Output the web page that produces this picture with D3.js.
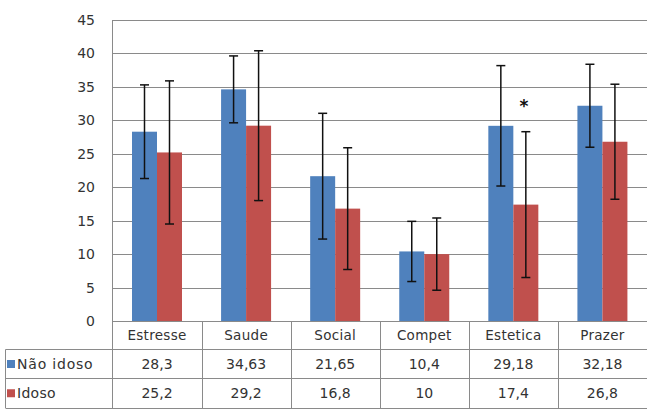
<!DOCTYPE html>
<html><head><meta charset="utf-8">
<script src="https://cdn.jsdelivr.net/npm/d3@7"></script>
<style>html,body{margin:0;padding:0;background:#fff;}svg{display:block;}</style>
</head><body>
<svg id="chart" width="647" height="409"></svg>
<script>
const categories = ["Estresse", "Saude", "Social", "Compet", "Estetica", "Prazer"];
const seriesNames = ["Não idoso", "Idoso"];
const naoIdoso = [28.3, 34.63, 21.65, 10.4, 29.18, 32.18];
const idoso = [25.2, 29.2, 16.8, 10, 17.4, 26.8];
const naoIdosoLabels = ["28,3", "34,63", "21,65", "10,4", "29,18", "32,18"];
const idosoLabels = ["25,2", "29,2", "16,8", "10", "17,4", "26,8"];
const sdNaoIdoso = [7.0, 5.0, 9.4, 4.5, 9.0, 6.2];
const sdIdoso = [10.7, 11.2, 9.1, 5.4, 10.9, 8.6];
const yTicks = [0, 5, 10, 15, 20, 25, 30, 35, 40, 45];
const markers = [{category: "Estetica", series: "Idoso", value: 33, text: "*"}];

const colors = {"Não idoso": "#4F81BD", "Idoso": "#C0504D"};
const gridColor = "#8a8a8a";
const font = "'DejaVu Sans', sans-serif";

const svg = d3.select("#chart");
const plotLeft = 112.5, plotRight = 647, plotTop = 20, plotBottom = 321;
const tableLeft = 5.5, row1 = 349.5, row2 = 378.5, tableBottom = 408;

const x0 = d3.scaleBand().domain(categories).range([plotLeft, plotRight]).padding(0);
const x1 = d3.scaleBand().domain(seriesNames).range([19.5, 69.5]).padding(0);
const y = d3.scaleLinear().domain([0, 45]).range([plotBottom, plotTop]);

const data = categories.map((c, i) => ({
  cat: c,
  vals: [
    {s: "Não idoso", v: naoIdoso[i], sd: sdNaoIdoso[i]},
    {s: "Idoso", v: idoso[i], sd: sdIdoso[i]}
  ]
}));

// gridlines
svg.append("g").selectAll("line").data(yTicks).join("line")
  .attr("x1", plotLeft).attr("x2", plotRight)
  .attr("y1", d => Math.round(y(d)) + 0.5).attr("y2", d => Math.round(y(d)) + 0.5)
  .attr("stroke", gridColor).attr("stroke-width", 1);

// y labels
svg.append("g").selectAll("text").data(yTicks).join("text")
  .attr("x", 95).attr("y", d => y(d)).attr("dy", "0.36em")
  .attr("text-anchor", "end").attr("font-family", font).attr("font-size", 14)
  .attr("fill", "#333").text(d => d);

// bars
const groups = svg.append("g").selectAll("g").data(data).join("g")
  .attr("transform", d => `translate(${x0(d.cat)},0)`);
groups.selectAll("rect").data(d => d.vals).join("rect")
  .attr("x", d => x1(d.s)).attr("width", x1.bandwidth())
  .attr("y", d => y(d.v)).attr("height", d => y(0) - y(d.v))
  .attr("fill", d => colors[d.s]);

// error bars
const eb = groups.selectAll("g.eb").data(d => d.vals).join("g").attr("class", "eb");
eb.append("line")
  .attr("x1", d => x1(d.s) + x1.bandwidth() / 2).attr("x2", d => x1(d.s) + x1.bandwidth() / 2)
  .attr("y1", d => y(d.v + d.sd)).attr("y2", d => y(d.v - d.sd))
  .attr("stroke", "#111").attr("stroke-width", 1.5);
["top", "bot"].forEach(k => {
  eb.append("line")
    .attr("x1", d => x1(d.s) + x1.bandwidth() / 2 - 4.5).attr("x2", d => x1(d.s) + x1.bandwidth() / 2 + 4.5)
    .attr("y1", d => y(k === "top" ? d.v + d.sd : d.v - d.sd))
    .attr("y2", d => y(k === "top" ? d.v + d.sd : d.v - d.sd))
    .attr("stroke", "#111").attr("stroke-width", 1.5);
});

// markers
svg.append("g").selectAll("text").data(markers).join("text")
  .attr("x", d => x0(d.category) + x1(d.series) + x1.bandwidth() / 2 - 2)
  .attr("y", d => y(d.value)).attr("dy", "0.7em")
  .attr("text-anchor", "middle").attr("font-family", font).attr("font-size", 17).attr("font-weight", "bold")
  .attr("fill", "#111").text(d => d.text);

// axis left line
svg.append("line").attr("x1", plotLeft).attr("x2", plotLeft).attr("y1", plotTop).attr("y2", tableBottom)
  .attr("stroke", gridColor);

// table lines
const tbl = svg.append("g").attr("stroke", gridColor).attr("stroke-width", 1);
tbl.append("line").attr("x1", tableLeft).attr("x2", plotRight).attr("y1", row1).attr("y2", row1);
tbl.append("line").attr("x1", tableLeft).attr("x2", plotRight).attr("y1", row2).attr("y2", row2);
tbl.append("line").attr("x1", tableLeft).attr("x2", plotRight).attr("y1", tableBottom + 0.5).attr("y2", tableBottom + 0.5);
tbl.append("line").attr("x1", tableLeft).attr("x2", tableLeft).attr("y1", row1).attr("y2", tableBottom);
tbl.selectAll("line.sep").data(categories.slice(1)).join("line").attr("class", "sep")
  .attr("x1", d => Math.round(x0(d)) + 0.5).attr("x2", d => Math.round(x0(d)) + 0.5)
  .attr("y1", plotBottom).attr("y2", tableBottom);

// table text
const cx = c => x0(c) + x0.bandwidth() / 2;
svg.append("g").selectAll("text").data(categories).join("text")
  .attr("x", cx).attr("y", (plotBottom + row1) / 2).attr("dy", "0.36em")
  .attr("text-anchor", "middle").attr("font-family", font).attr("font-size", 13.5)
  .attr("letter-spacing", 0.3).attr("fill", "#333").text(d => d);
[naoIdosoLabels, idosoLabels].forEach((labels, r) => {
  const yy = r === 0 ? (row1 + row2) / 2 : (row2 + tableBottom) / 2;
  svg.append("g").selectAll("text").data(categories).join("text")
    .attr("x", cx).attr("y", yy).attr("dy", "0.36em")
    .attr("text-anchor", "middle").attr("font-family", font).attr("font-size", 14)
    .attr("fill", "#333").text((d, i) => labels[i]);
});

// legend keys in table
seriesNames.forEach((s, r) => {
  const yy = r === 0 ? (row1 + row2) / 2 : (row2 + tableBottom) / 2;
  svg.append("rect").attr("x", 7).attr("y", yy - 4).attr("width", 8).attr("height", 8).attr("fill", colors[s]);
  svg.append("text").attr("x", 17).attr("y", yy).attr("dy", "0.36em")
    .attr("font-family", font).attr("font-size", 14).attr("letter-spacing", r === 0 ? 0.8 : 0.3)
    .attr("fill", "#333").text(s);
});
</script>
</body></html>
